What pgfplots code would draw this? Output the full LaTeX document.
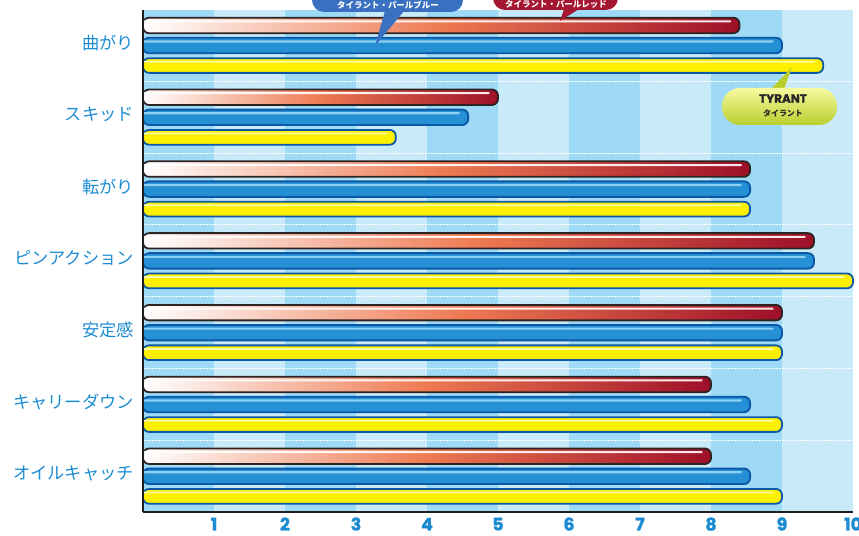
\documentclass[border=0pt]{standalone}
\usepackage{fontspec}
\setmainfont{Noto Sans CJK JP}
\newfontfamily\tickfont{Poppins}[BoldFeatures={FakeBold=1.4}]
\usepackage{pgfplots}
\usepackage{pgfplotstable}
\pgfplotsset{compat=1.18}
\definecolor{lbl}{RGB}{28,140,210}
\definecolor{stripeA}{RGB}{158,217,245}
\definecolor{stripeB}{RGB}{201,234,249}
\definecolor{redD}{RGB}{158,15,40}
\definecolor{redM}{RGB}{238,122,82}
\definecolor{redO}{RGB}{45,35,35}
\definecolor{blueF}{RGB}{38,144,212}
\definecolor{blueH}{RGB}{140,208,243}
\definecolor{blueO}{RGB}{12,88,168}
\definecolor{yel}{RGB}{255,240,0}
\definecolor{yelH}{RGB}{250,250,170}
\definecolor{bubB}{RGB}{58,112,192}
\definecolor{bubR}{RGB}{165,22,48}
\definecolor{pillT}{RGB}{248,250,160}
\definecolor{pillB}{RGB}{185,206,45}
% y: category position (6 = top)
\pgfplotstableread{
y red  blue yellow
6 8.40 9.00 9.58
5 5.00 4.58 3.56
4 8.55 8.55 8.55
3 9.45 9.45 10.0
2 9.00 9.00 9.00
1 8.00 8.55 9.00
0 8.00 8.55 9.00
}\scores
\begin{document}
\begin{tikzpicture}[x=1bp,y=1bp]
\begin{axis}[
  at={(143bp,23.8bp)}, anchor=south west,
  scale only axis, width=710bp, height=502.6bp,
  xmin=0, xmax=10, ymin=-0.5, ymax=6.5,
  axis on top,
  axis x line*=bottom, axis y line*=left,
  axis line style={line width=2.4bp, black!88, -},
  xtick={1,...,10}, ytick={0,...,6},
  yticklabels={オイルキャッチ,キャリーダウン,安定感,ピンアクション,転がり,スキッド,曲がり},
  major tick length=0pt,
  /pgf/number format/assume math mode=true,
  xticklabel style={font=\tickfont\bfseries\fontsize{17.5}{18}\selectfont, text=lbl, anchor=base, inner sep=0pt, yshift=-18.3bp},
  yticklabel style={font=\fontsize{17.3}{19}\selectfont, text=lbl, anchor=east, inner sep=0pt, xshift=-9bp, yshift=2.5bp},
  clip=false,
  xbar,
]
% background stripes
\fill[stripeA] (axis cs:0,-0.5) rectangle (axis cs:1,6.5);
\fill[stripeB] (axis cs:1,-0.5) rectangle (axis cs:2,6.5);
\fill[stripeA] (axis cs:2,-0.5) rectangle (axis cs:3,6.5);
\fill[stripeB] (axis cs:3,-0.5) rectangle (axis cs:4,6.5);
\fill[stripeA] (axis cs:4,-0.5) rectangle (axis cs:5,6.5);
\fill[stripeB] (axis cs:5,-0.5) rectangle (axis cs:6,6.5);
\fill[stripeA] (axis cs:6,-0.5) rectangle (axis cs:7,6.5);
\fill[stripeB] (axis cs:7,-0.5) rectangle (axis cs:8,6.5);
\fill[stripeA] (axis cs:8,-0.5) rectangle (axis cs:9,6.5);
\fill[stripeB] (axis cs:9,-0.5) rectangle (axis cs:10,6.5);
\pgfplotsinvokeforeach{0.5,1.5,2.5,3.5,4.5,5.5}{
  \draw[white, line width=1bp, dash pattern=on 1.5bp off 1.5bp] (axis cs:0,#1) -- (axis cs:10,#1);
}
% red series: one bar per plot so that each bar gets its own gradient
\pgfplotsinvokeforeach{0,1,2,3,4,5,6}{
  \addplot[xbar, bar width=0.215, bar shift=0.279, draw=redO, line width=1.8bp,
    rounded corners=6bp, left color=white, right color=redD, middle color=redM,
    restrict y to domain=#1:#1]
    table[x=red, y=y] {\scores};
}
\addplot[xbar, bar width=0.028, bar shift=0.335, draw=none, fill=white, opacity=0.9]
  table[x expr=\thisrow{red}-0.12, y=y] {\scores};
% blue series
\addplot[xbar, bar width=0.215, bar shift=0, draw=blueO, line width=1.9bp,
  rounded corners=6bp, fill=blueF]
  table[x=blue, y=y] {\scores};
\addplot[xbar, bar width=0.03, bar shift=0.056, draw=none, fill=blueH]
  table[x expr=\thisrow{blue}-0.12, y=y] {\scores};
% yellow series
\addplot[xbar, bar width=0.205, bar shift=-0.279, draw=blueO, line width=1.8bp,
  rounded corners=6bp, fill=yel]
  table[x=yellow, y=y] {\scores};
\addplot[xbar, bar width=0.025, bar shift=-0.226, draw=none, fill=yelH]
  table[x expr=\thisrow{yellow}-0.12, y=y] {\scores};
\end{axis}
% callouts (image px -> Y = 536 - py)
\fill[bubB, rounded corners=12bp] (312,524) rectangle (463,565);
\fill[bubB] (385,525) -- (404,525) -- (375,490) -- cycle;
\node[white, font=\bfseries\fontsize{8.5}{9}\selectfont] at (388,530.5) {タイラント・パールブルー};
\fill[bubR, rounded corners=12bp] (493,526) rectangle (618,565);
\fill[bubR] (564,527) -- (579,527) -- (560,515) -- cycle;
\node[white, font=\bfseries\fontsize{8.5}{9}\selectfont] at (556,531.5) {タイラント・パールレッド};
\fill[pillB] (771,447) -- (784,447) -- (792,469) -- cycle;
\shade[top color=pillT, bottom color=pillB, rounded corners=18bp] (722,411) rectangle (837,448);
\node[black!85, font=\tickfont\bfseries\fontsize{12}{12}\selectfont] at (783,437.5) {TYRANT};
\node[black!85, font=\bfseries\fontsize{8}{8}\selectfont] at (783,423) {タイラント};
\pgfresetboundingbox
\useasboundingbox (0,0) rectangle (859,536);
\end{tikzpicture}
\end{document}
